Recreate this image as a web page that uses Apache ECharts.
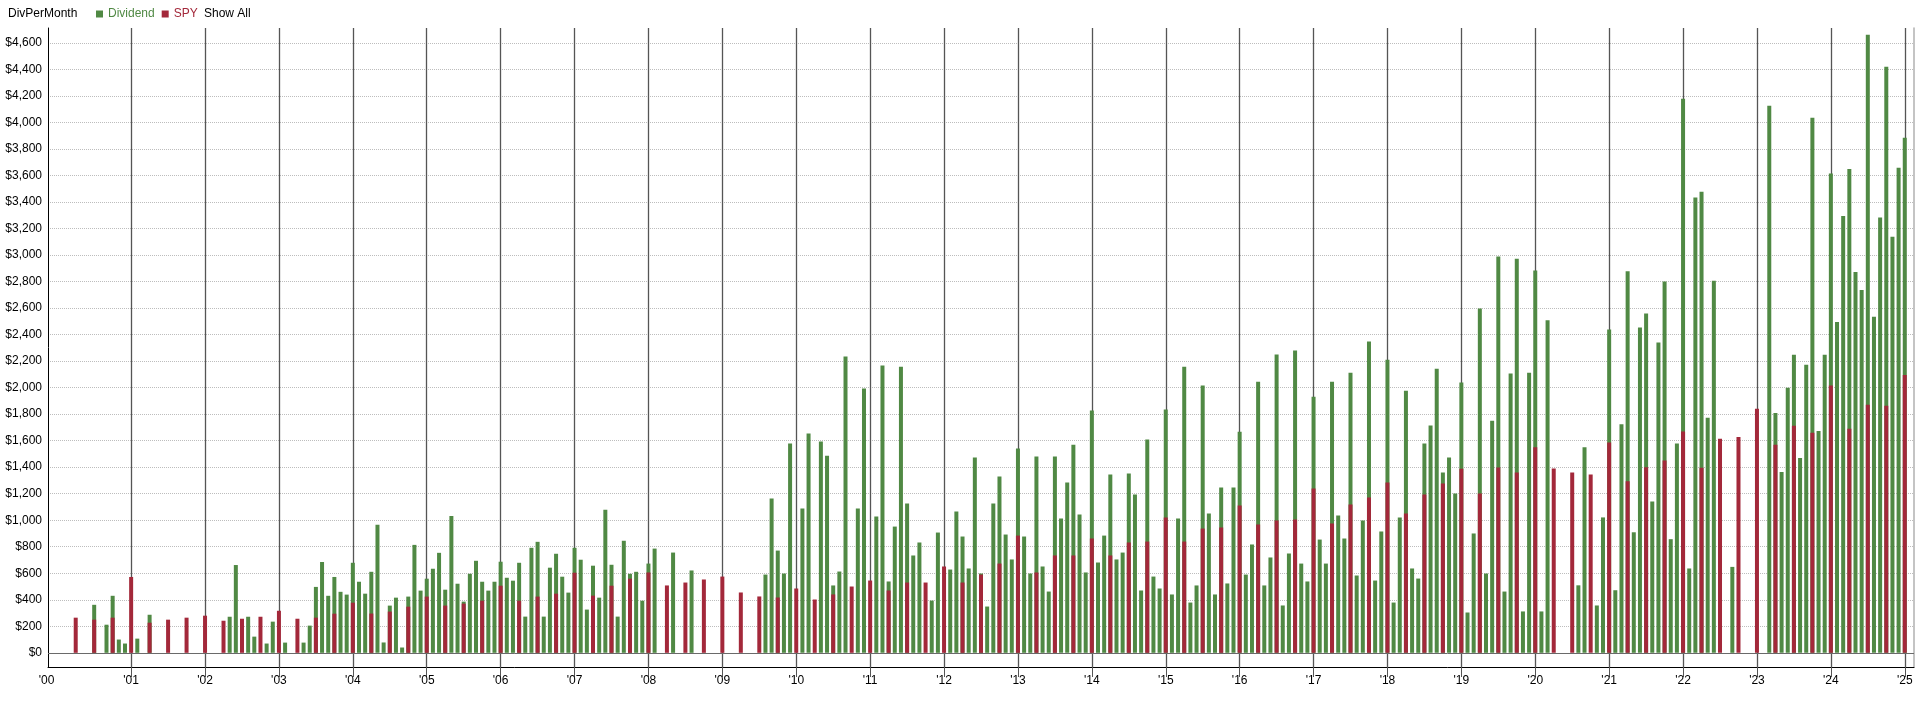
<!DOCTYPE html>
<html>
<head>
<meta charset="utf-8">
<script src="https://cdn.jsdelivr.net/npm/echarts@6/dist/echarts.min.js"></script>
<style>
  html, body { margin: 0; padding: 0; background: #fff; }
  #chart { width: 1918px; height: 704px; }
</style>
</head>
<body>
<div id="chart"></div>
<script>
// ---- DATA ----
// Month categories: Dec 1999 .. Feb 2025 (one bar slot per month)
const firstMonth = '1999-12';
const lastMonth = '2025-02';

// Total dividend per month (green bar height), null = no green bar
const dividend = [
  null, // 1999-12
  /*2000*/ null, null, null, null, null, null, 362, null, 212, 430, 100, 70,
  /*2001*/ null, 107, null, 287, null, null, null, null, null, null, null, null,
  /*2002*/ null, null, null, null, 272, 662, null, 272, 122, null, 70, 235,
  /*2003*/ null, 77, null, null, 77, 205, 497, 685, 430, 572, 460, 439,
  /*2004*/ 679, 536, 446, 611, 965, 78, 356, 416, 40, 424, 814, 469,
  /*2005*/ 559, 634, 754, 476, 1032, 521, 386, 596, 694, 536, 469, 536,
  /*2006*/ 687, 566, 544, 679, 273, 792, 837, 273, 642, 747, 574, 454,
  /*2007*/ 792, 702, 326, 657, 416, 1078, 664, 273, 845, 596, 611, 393,
  /*2008*/ 673, 786, null, null, 756, null, null, 621, null, null, null, null,
  /*2009*/ null, null, null, null, null, null, null, 590, 1163, 771, 598, 1578,
  /*2010*/ null, 1088, 1653, null, 1593, 1487, 508, 613, 2234, null, 1088, 1993,
  /*2011*/ null, 1028, 2166, 538, 952, 2158, 1126, 734, 832, null, 394, 907,
  /*2012*/ null, 628, 1065, 877, 636, 1472, 598, 349, 1126, 1329, 892, 704,
  /*2013*/ 1540, 877, 598, 1480, 651, 462, 1480, 1013, 1284, 1570, 1043, 606,
  /*2014*/ 1827, 681, 884, 1344, 704, 756, 1352, 1194, 470, 1608, 575, 485,
  /*2015*/ 1834, 440, 1013, 2158, 379, 508, 2015, 1050, 440, 1246, 523, 1246,
  /*2016*/ 1668, 590, 817, 2045, 508, 719, 2249, 357, 749, 2279, 673, 538,
  /*2017*/ 1932, 854, 673, 2045, 1035, 862, 2113, 583, 998, 2347, 545, 915,
  /*2018*/ 2211, 379, 1020, 1977, 636, 560, 1578, 1714, 2143, 1359, 1472, 1201,
  /*2019*/ 2038, 304, 900, 2596, 598, 1751, 2988, 462, 2106, 2972, 312, 2113,
  /*2020*/ 2883, 312, 2508, null, null, null, null, 509, 1551, null, 357, 1021,
  /*2021*/ 2438, 472, 1723, 2877, 909, 2453, 2559, 1142, 2341, 2801, 857, 1578,
  /*2022*/ 4179, 636, 3434, 3478, 1773, 2805, null, null, 648, null, null, null,
  /*2023*/ null, null, 4126, 1809, 1364, 1999, 2247, 1470, 2173, 4036, 1673, 2247,
  /*2024*/ 3614, 2495, 3295, 3649, 2872, 2737, 4661, 2534, 3282, 4420, 3137, 3659,
  /*2025*/ 3885, null
];

// SPY part of the monthly dividend (red bar height), null = none
const spy = [
  null, // 1999-12
  /*2000*/ null, null, null, 265, null, null, 250, null, null, 265, null, null,
  /*2001*/ 572, null, null, 227, null, null, 250, null, null, 265, null, null,
  /*2002*/ 280, null, null, 242, null, null, 257, null, null, 272, null, null,
  /*2003*/ 317, null, null, 257, null, null, 265, null, null, 295, null, null,
  /*2004*/ 378, null, null, 296, null, null, 311, null, null, 348, null, null,
  /*2005*/ 424, null, null, 356, null, null, 371, null, null, 393, null, null,
  /*2006*/ 506, null, null, 393, null, null, 424, null, null, 446, null, null,
  /*2007*/ 604, null, null, 431, null, null, 506, null, null, 559, null, null,
  /*2008*/ 606, null, null, 508, null, null, 530, null, null, 553, null, null,
  /*2009*/ 575, null, null, 455, null, null, 425, null, null, 417, null, null,
  /*2010*/ 485, null, null, 402, null, null, 440, null, null, 500, null, null,
  /*2011*/ 545, null, null, 470, null, null, 530, null, null, 530, null, null,
  /*2012*/ 651, null, null, 530, null, null, 590, null, null, 673, null, null,
  /*2013*/ 884, null, null, 606, null, null, 734, null, null, 734, null, null,
  /*2014*/ 862, null, null, 734, null, null, 832, null, null, 839, null, null,
  /*2015*/ 1020, null, null, 839, null, null, 937, null, null, 945, null, null,
  /*2016*/ 1111, null, null, 967, null, null, 998, null, null, 1005, null, null,
  /*2017*/ 1239, null, null, 975, null, null, 1118, null, null, 1171, null, null,
  /*2018*/ 1284, null, null, 1050, null, null, 1194, null, null, 1276, null, null,
  /*2019*/ 1389, null, null, 1201, null, null, 1397, null, null, 1359, null, null,
  /*2020*/ 1551, null, null, 1390, null, null, 1360, null, null, 1345, null, null,
  /*2021*/ 1587, null, null, 1293, null, null, 1399, null, null, 1451, null, null,
  /*2022*/ 1669, null, null, 1396, null, null, 1615, null, null, 1628, null, null,
  /*2023*/ 1841, null, null, 1570, null, null, 1712, null, null, 1660, null, null,
  /*2024*/ 2015, null, null, 1689, null, null, 1870, null, null, 1863, null, null,
  /*2025*/ 2095, null
];

const seriesNames = ['Dividend', 'SPY'];
const seriesColors = ['#508944', '#a3283a'];

// ---- BUILD CATEGORIES ----
function buildMonths(first, last) {
  const out = [];
  let [y, m] = first.split('-').map(Number);
  const [ly, lm] = last.split('-').map(Number);
  while (y < ly || (y === ly && m <= lm)) {
    out.push(y + '-' + String(m).padStart(2, '0'));
    m++; if (m > 12) { m = 1; y++; }
  }
  return out;
}
const months = buildMonths(firstMonth, lastMonth);
// year marks from Jan 2001 on; the first label ('00) sits at the axis start
const isYearMark = (v) => v.endsWith('-01') && v !== '2000-01';

const FONT = '"Liberation Sans", Arial, sans-serif';

const chart = echarts.init(document.getElementById('chart'), null, { renderer: 'canvas' });
chart.setOption({
  animation: false,
  backgroundColor: '#ffffff',
  textStyle: { fontFamily: FONT },
  title: [
    { text: 'DivPerMonth', left: 8, top: 8, padding: 0,
      textStyle: { fontSize: 12, fontWeight: 'normal', color: '#000', fontFamily: FONT } },
    { text: 'Show All', left: 204, top: 8, padding: 0,
      textStyle: { fontSize: 12, fontWeight: 'normal', color: '#000', fontFamily: FONT } }
  ],
  legend: {
    left: 96, top: 8, padding: 0,
    itemWidth: 7, itemHeight: 7, itemGap: 7, icon: 'rect',
    textStyle: { fontSize: 12, fontFamily: FONT },
    data: [
      { name: seriesNames[0], textStyle: { color: seriesColors[0] } },
      { name: seriesNames[1], textStyle: { color: seriesColors[1] } }
    ]
  },
  grid: { left: 48, right: 4, top: 28, bottom: 37, containLabel: false },
  xAxis: {
    type: 'category',
    data: months,
    boundaryGap: true,
    axisLine: { show: true, onZero: false, lineStyle: { color: '#000', width: 1 } },
    axisTick: {
      show: true, alignWithLabel: true, length: 10,
      interval: (i, v) => isYearMark(v),
      lineStyle: { color: '#555' }
    },
    axisLabel: {
      show: true,
      interval: (i, v) => i === 0 || isYearMark(v),
      formatter: (v, i) => (i === 0 ? "{first|'00}" : "'" + v.slice(2, 4)),
      rich: { first: { padding: [0, 9, 0, 0], fontSize: 12, color: '#000', fontFamily: FONT } },
      fontSize: 12, color: '#000', margin: 8, fontFamily: FONT
    },
    splitLine: {
      show: true, alignWithLabel: true,
      interval: (i, v) => isYearMark(v),
      lineStyle: { color: '#555', width: 1.3 }
    }
  },
  yAxis: [
    {
      type: 'value',
      min: -107, max: 4712,
      minInterval: 200, maxInterval: 200, splitNumber: 24,
      axisLine: { show: true, lineStyle: { color: '#000' } },
      axisTick: { show: false },
      axisLabel: {
        showMinLabel: false, showMaxLabel: false,
        formatter: (v) => (v % 200 === 0 ? '$' + v.toLocaleString('en-US') : ''),
        fontSize: 12, color: '#000', margin: 6, fontFamily: FONT
      },
      splitLine: {
        show: true, showMinLine: false, showMaxLine: false,
        lineStyle: { color: '#bdbdbd', type: [1, 1], width: 1 }
      }
    },
    {
      type: 'value', position: 'right', min: 0, max: 1,
      axisLine: { show: true, lineStyle: { color: '#b0b0b0', width: 1.5 } },
      axisTick: { show: false }, axisLabel: { show: false }, splitLine: { show: false }
    }
  ],
  series: [
    {
      name: seriesNames[0], type: 'bar', data: dividend,
      barWidth: 4, barGap: '-100%',
      itemStyle: { color: seriesColors[0] },
      markLine: {
        silent: true, symbol: ['none', 'none'], label: { show: false },
        lineStyle: { color: '#6a6a6a', type: 'solid', width: 1 },
        data: [{ yAxis: 0 }]
      }
    },
    {
      name: seriesNames[1], type: 'bar', data: spy,
      barWidth: 4, barGap: '-100%',
      itemStyle: { color: seriesColors[1] }
    }
  ]
});
</script>
</body>
</html>
